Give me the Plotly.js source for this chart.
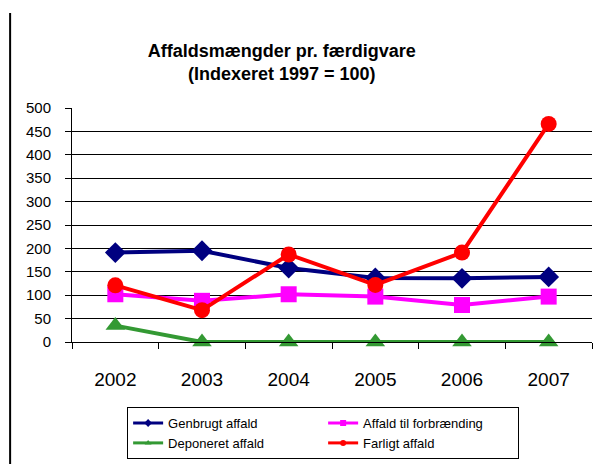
<!DOCTYPE html>
<html>
<head>
<meta charset="utf-8">
<script src="https://cdn.plot.ly/plotly-3.0.1.min.js"></script>
<style>html,body{margin:0;padding:0;background:#fff;}#chart{width:597px;height:464px;}</style>
</head>
<body>
<div id="chart"></div>
<script>
const years = ["2002", "2003", "2004", "2005", "2006", "2007"];
const genbrugt = [191, 195, 158, 137, 136, 139];
const forbraending = [102, 88, 102, 97, 79, 97];
const deponeret = [35, 0, 0, 0, 0, 0];
const farligt = [121, 68, 187, 122, 191, 466];
const names = ["Genbrugt affald", "Affald til forbrænding", "Deponeret affald", "Farligt affald"];
const colors = ["#000080", "#FF00FF", "#339933", "#FF0000"];
const symbols = ["diamond", "square", "triangle-up", "circle"];
const series = [genbrugt, forbraending, deponeret, farligt];

const traces = [];
series.forEach((vals, i) => {
  traces.push({
    type: "scatter", mode: "lines+markers", x: years, y: vals,
    name: names[i], showlegend: false, cliponaxis: false,
    line: {color: colors[i], width: 4},
    marker: {symbol: symbols[i], size: symbols[i] === "triangle-up" ? 17 : 16, color: colors[i]}
  });
});
series.forEach((vals, i) => {
  traces.push({
    type: "scatter", mode: "lines+markers", x: [null], y: [null],
    name: names[i], showlegend: true, legendrank: i + 1,
    line: {color: colors[i], width: 3},
    marker: {symbol: symbols[i], size: 6, color: colors[i]}
  });
});

const layout = {
  width: 597, height: 464,
  paper_bgcolor: "#fff", plot_bgcolor: "#fff",
  margin: {l: 72, r: 5, t: 108, b: 122, autoexpand: false},
  font: {family: "Arial, Liberation Sans, sans-serif", color: "#000"},
  title: {
    text: "<b>Affaldsmængder pr. færdigvare<br>(Indexeret 1997 = 100)</b>",
    font: {size: 18, color: "#000"},
    xref: "container", x: 0.472, xanchor: "center",
    yref: "container", y: 0.877, yanchor: "middle"
  },
  xaxis: {
    type: "category", range: [-0.5, 5.5],
    showline: true, linecolor: "#000", linewidth: 1,
    ticks: "outside", tickson: "boundaries", ticklen: 6, tickcolor: "#000",
    tickfont: {size: 19}, ticklabelstandoff: 20,
    showgrid: false, zeroline: false, fixedrange: true, automargin: false
  },
  yaxis: {
    range: [0, 500], dtick: 50, tick0: 0,
    showline: true, linecolor: "#000", linewidth: 1,
    ticks: "outside", ticklen: 6, tickcolor: "#000",
    tickfont: {size: 15}, ticklabelstandoff: 11,
    showgrid: true, gridcolor: "#000", gridwidth: 1,
    zeroline: true, zerolinecolor: "#000", zerolinewidth: 1, fixedrange: true, automargin: false
  },
  legend: {
    orientation: "h", x: 0.106, xanchor: "left", y: -0.278, yanchor: "top",
    bordercolor: "#000", borderwidth: 1, bgcolor: "#fff",
    entrywidth: 150, entrywidthmode: "pixels",
    font: {size: 13, color: "#000"}, traceorder: "normal"
  },
  shapes: [{
    type: "line", xref: "paper", yref: "paper",
    x0: -0.119, x1: -0.119, y0: 1.406, y1: -0.53,
    line: {color: "#000", width: 2}
  }]
};

Plotly.newPlot("chart", traces, layout, {displayModeBar: false, staticPlot: true});
</script>
</body>
</html>
